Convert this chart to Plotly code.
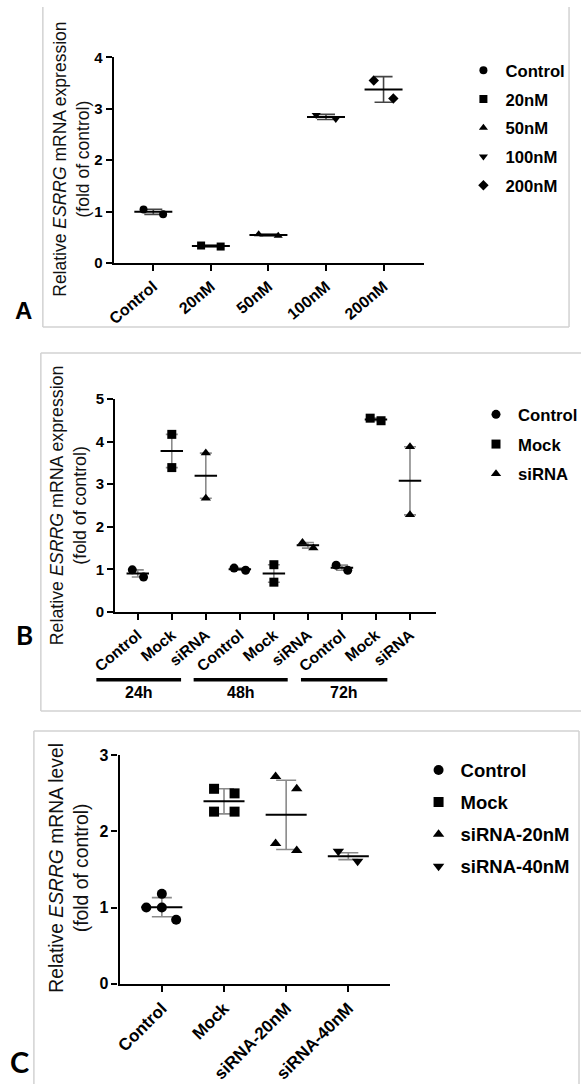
import numpy as np
import plotly.graph_objects as go

# ---------------- data ----------------
A_categories = ["Control", "20nM", "50nM", "100nM", "200nM"]
A_values = [[1.04, 0.95], [0.34, 0.32], [0.56, 0.53], [2.88, 2.80], [3.55, 3.20]]
A_err = [0.05, 0.02, 0.02, 0.05, 0.25]
A_symbols = ["circle", "square", "triangle-up", "triangle-down", "diamond"]

B_times = ["24h", "48h", "72h"]
B_groups = ["Control", "Mock", "siRNA"]
B_values = {
    "Control": [[0.99, 0.82], [1.03, 0.98], [1.10, 0.98]],
    "Mock":    [[4.17, 3.39], [1.11, 0.70], [4.55, 4.49]],
    "siRNA":   [[3.73, 2.67], [1.63, 1.50], [3.88, 2.28]],
}
B_err = {
    "Control": [0.085, 0.025, 0.06],
    "Mock":    [0.39, 0.205, 0.03],
    "siRNA":   [0.53, 0.065, 0.80],
}
B_symbols = ["circle", "square", "triangle-up"]

C_categories = ["Control", "Mock", "siRNA-20nM", "siRNA-40nM"]
C_values = [[1.00, 1.18, 1.00, 0.84], [2.56, 2.50, 2.26, 2.26],
            [2.72, 2.56, 1.84, 1.75], [1.74, 1.61]]
C_err = [0.125, 0.165, 0.455, 0.045]
C_symbols = ["circle", "square", "triangle-up", "triangle-down"]

# horizontal scatter of replicate points (in category units)
A_jitter = [[-0.17, 0.17]] * 5
B_jitter = {
    "Control": [[-0.16, 0.17], [-0.17, 0.17], [-0.17, 0.17]],
    "Mock":    [[0.0, 0.0], [0.0, 0.0], [-0.17, 0.15]],
    "siRNA":   [[0.0, 0.0], [-0.16, 0.16], [0.0, 0.0]],
}
C_jitter = [[-0.25, 0.0, 0.0, 0.23], [-0.16, 0.17, -0.16, 0.17],
            [-0.17, 0.17, -0.17, 0.17], [-0.16, 0.15]]

# ---------------- layout helpers ----------------
W, H = 583, 1084
def px(x):
    return x / W
def py(y):
    return 1 - y / H

FONT = "Liberation Sans, Arial, sans-serif"
BLACK = "#000000"
GRAY = "#8a8a8a"
BOX = "#d2d2d2"
HALF = 0.33

fig = go.Figure()

def add_summary(xa, ya, cats_x, vals, errs, capw, errcolor):
    means = [float(np.mean(v)) for v in vals]
    # error bars
    fig.add_trace(go.Scatter(
        x=cats_x, y=means, mode="markers", xaxis=xa, yaxis=ya,
        marker=dict(size=1, color="rgba(0,0,0,0)"), showlegend=False, hoverinfo="skip",
        error_y=dict(type="data", array=errs, color=errcolor, thickness=1.6, width=capw),
        cliponaxis=False))
    # mean lines
    lx, ly = [], []
    for cx, m in zip(cats_x, means):
        lx += [cx - HALF, cx + HALF, None]
        ly += [m, m, None]
    fig.add_trace(go.Scatter(x=lx, y=ly, mode="lines", xaxis=xa, yaxis=ya,
                             line=dict(color=BLACK, width=2), showlegend=False,
                             hoverinfo="skip", cliponaxis=False))

# ---------- Panel A ----------
A_x = list(range(len(A_categories)))
add_summary("x", "y", A_x, A_values, A_err, 9, "#444444")
for i, (name, vals) in enumerate(zip(A_categories, A_values)):
    fig.add_trace(go.Scatter(
        x=[i + j for j in A_jitter[i]], y=vals, mode="markers", name=name,
        xaxis="x", yaxis="y", legend="legend", legendgroup="A" + name,
        marker=dict(symbol=A_symbols[i], size=8, color=BLACK), cliponaxis=False))

# ---------- Panel B ----------
B_x = list(range(len(B_times) * len(B_groups)))
b_means_x, b_vals, b_errs = [], [], []
for t in range(len(B_times)):
    for g, grp in enumerate(B_groups):
        b_means_x.append(t * 3 + g)
        b_vals.append(B_values[grp][t])
        b_errs.append(B_err[grp][t])
add_summary("x2", "y2", b_means_x, b_vals, b_errs, 6, GRAY)
for g, grp in enumerate(B_groups):
    xs, ys = [], []
    for t in range(len(B_times)):
        for v, j in zip(B_values[grp][t], B_jitter[grp][t]):
            xs.append(t * 3 + g + j)
            ys.append(v)
    fig.add_trace(go.Scatter(
        x=xs, y=ys, mode="markers", name=grp, xaxis="x2", yaxis="y2",
        legend="legend2", legendgroup="B" + grp,
        marker=dict(symbol=B_symbols[g], size=9, color=BLACK), cliponaxis=False))

# ---------- Panel C ----------
C_x = list(range(len(C_categories)))
add_summary("x3", "y3", C_x, C_values, C_err, 10, GRAY)
for i, (name, vals) in enumerate(zip(C_categories, C_values)):
    fig.add_trace(go.Scatter(
        x=[i + j for j in C_jitter[i]], y=vals, mode="markers", name=name,
        xaxis="x3", yaxis="y3", legend="legend3", legendgroup="C" + name,
        marker=dict(symbol=C_symbols[i], size=10, color=BLACK), cliponaxis=False))

# ---------------- axes ----------------
def xaxis_style(domain, rng, tickvals, ticktext, anchor, fsize, angle):
    return dict(domain=domain, range=rng, tickmode="array", tickvals=tickvals, ticktext=ticktext,
                tickangle=angle, showline=True, linecolor=BLACK, linewidth=2.2, ticks="outside",
                ticklen=6, tickwidth=2, tickcolor=BLACK, showgrid=False, zeroline=False,
                anchor=anchor, fixedrange=True,
                tickfont=dict(family=FONT, size=fsize, color=BLACK, weight="bold"))

def yaxis_style(domain, rng, anchor, fsize):
    return dict(domain=domain, range=rng, dtick=1, tick0=0, showline=True, linecolor=BLACK,
                linewidth=2.2, ticks="outside", ticklen=6, tickwidth=2, tickcolor=BLACK,
                showgrid=False, zeroline=False, anchor=anchor, fixedrange=True,
                tickfont=dict(family=FONT, size=fsize, color=BLACK, weight="bold"))

B_ticktext = [g for _ in B_times for g in B_groups]

fig.update_layout(
    xaxis=xaxis_style([px(114), px(425.3)], [-0.69, 4.70], A_x, A_categories, "y", 16, -40),
    yaxis=yaxis_style([py(263), py(57.3)], [0, 4], "x", 15),
    xaxis2=xaxis_style([px(115.7), px(437)], [-0.66, 8.75], B_x, B_ticktext, "y2", 15.5, -40),
    yaxis2=yaxis_style([py(612), py(399)], [0, 5], "x2", 15),
    xaxis3=xaxis_style([px(120), px(391.3)], [-0.68, 3.67], C_x, C_categories, "y3", 17, -45),
    yaxis3=yaxis_style([py(983.7), py(755.3)], [0, 3], "x3", 16),
)

# ---------------- legends ----------------
def legend_style(x, y, fsize, gap):
    return dict(x=px(x), y=py(y), xanchor="left", yanchor="top", bgcolor="rgba(0,0,0,0)",
                borderwidth=0, tracegroupgap=gap, itemsizing="trace", itemclick=False,
                itemwidth=34,
                font=dict(family=FONT, size=fsize, color=BLACK, weight="bold"))

fig.update_layout(
    legend=legend_style(463, 53, 16.7, 4),
    legend2=legend_style(476, 397, 16.7, 5),
    legend3=legend_style(418, 751.5, 18.5, 5),
)

# ---------------- annotations (titles, labels, letters) ----------------
ann = []
def ytitle(xc, yc, text, size):
    ann.append(dict(x=px(xc), y=py(yc), xref="paper", yref="paper", text=text, textangle=-90,
                    showarrow=False, xanchor="center", yanchor="middle", align="center",
                    font=dict(family=FONT, size=size, color="#111111")))

ytitle(71, 159, "Relative <i>ESRRG</i> mRNA expression<br>(fold of control)", 17.5)
ytitle(68.5, 505, "Relative <i>ESRRG</i> mRNA expression<br>(fold of control)", 17.8)
ytitle(69, 868, "Relative <i>ESRRG</i> mRNA level<br>(fold of control)", 19.3)

for t, xc in zip(B_times, [139.2, 241.5, 345.3]):
    ann.append(dict(x=px(xc), y=py(692.7), xref="paper", yref="paper", text=t, showarrow=False,
                    xanchor="center", yanchor="middle",
                    font=dict(family=FONT, size=16, color=BLACK, weight="bold")))

for letter, xc, yc, fam, fs in [("A", 24, 310, FONT, 24),
                                ("B", 25, 635, "Lato, " + FONT, 26),
                                ("C", 20, 1061, "Lato, " + FONT, 29)]:
    ann.append(dict(x=px(xc), y=py(yc), xref="paper", yref="paper", text=letter, showarrow=False,
                    xanchor="center", yanchor="middle",
                    font=dict(family=fam, size=fs, color=BLACK, weight="bold")))

# ---------------- shapes (panel frames, time brackets) ----------------
shapes = []
def seg(x0, y0, x1, y1, color=BOX, width=1.5):
    shapes.append(dict(type="line", xref="paper", yref="paper", x0=px(x0), y0=py(y0),
                       x1=px(x1), y1=py(y1), line=dict(color=color, width=width)))

# panel A frame (open top)
seg(43, 7, 43, 327); seg(571, 7, 571, 327); seg(43, 327, 571, 327)
# panel B frame
seg(41, 353, 583, 353); seg(41, 353, 41, 711); seg(41, 711, 583, 711)
# panel C frame
seg(34, 731, 581, 731); seg(34, 731, 34, 1084); seg(581, 731, 581, 1084)
# time brackets under panel B
for x0, x1 in [(96.7, 181.7), (194.3, 288.7), (302, 388.7)]:
    seg(x0, 679.7, x1, 679.7, color=BLACK, width=3.5)

fig.update_layout(
    width=W, height=H, autosize=False,
    margin=dict(l=0, r=0, t=0, b=0),
    paper_bgcolor="white", plot_bgcolor="white",
    template="none",
    annotations=ann, shapes=shapes,
    font=dict(family=FONT, color=BLACK),
    hovermode=False,
)

fig.write_html("out.html", config={"displayModeBar": False},
               post_script="document.body.style.margin='0';document.body.style.overflow='hidden';")
